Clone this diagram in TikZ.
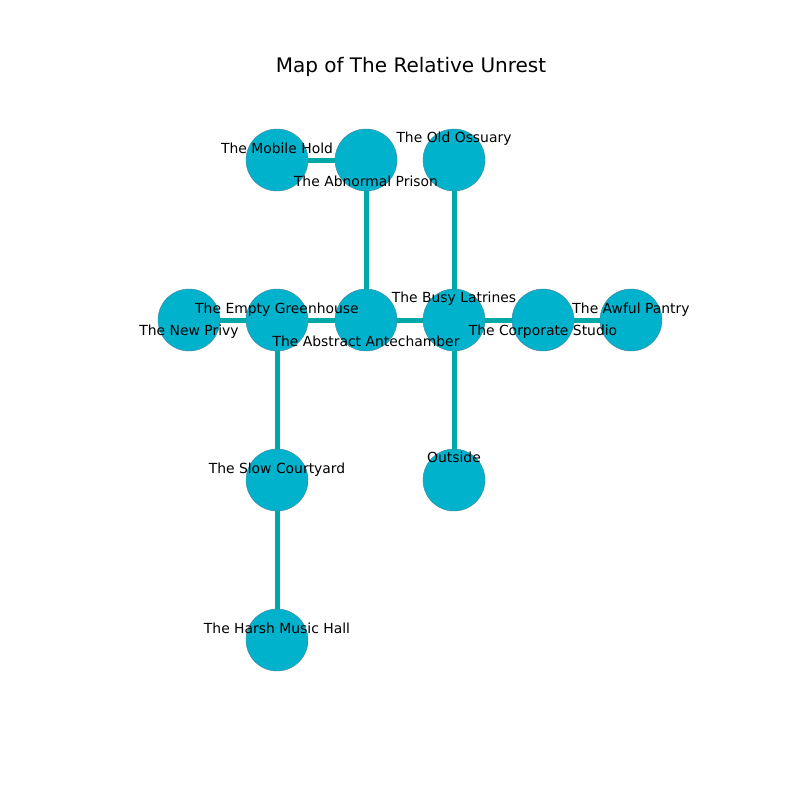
\documentclass[tikz,border=0pt]{standalone}
\usepackage{fontspec}
\setmainfont{DejaVu Sans}
\definecolor{nodefill}{RGB}{0,178,204}
\definecolor{edgecol}{RGB}{0,168,168}
\definecolor{nodeedge}{RGB}{70,130,150}
\begin{document}
\begin{tikzpicture}[x=1pt,y=-1pt,
  room/.style={circle,fill=nodefill,draw=nodeedge,line width=0.4pt,minimum size=62pt,inner sep=0pt},
  link/.style={edgecol,line width=5pt},
  lbl/.style={font=\fontsize{13.9}{16}\selectfont,inner sep=0pt,anchor=center}]
\useasboundingbox (0,0) rectangle (800,800);
\node[font=\fontsize{20}{24}\selectfont] (title) at (411,67) {Map of The Relative Unrest};
\node[room] (mob) at (277,160) {};
\node[room] (abn) at (366,160) {};
\node[room] (oss) at (454,160) {};
\node[room] (pri) at (189,320) {};
\node[room] (gre) at (277,320) {};
\node[room] (ant) at (366,320) {};
\node[room] (lat) at (454,320) {};
\node[room] (cor) at (543,320) {};
\node[room] (pan) at (631,320) {};
\node[room] (slo) at (277,480) {};
\node[room] (out) at (454,480) {};
\node[room] (har) at (277,640) {};
\draw[link] (mob) -- (abn);
\draw[link] (abn) -- (ant);
\draw[link] (oss) -- (lat);
\draw[link] (pri) -- (gre);
\draw[link] (gre) -- (ant);
\draw[link] (ant) -- (lat);
\draw[link] (lat) -- (cor);
\draw[link] (cor) -- (pan);
\draw[link] (gre) -- (slo);
\draw[link] (lat) -- (out);
\draw[link] (slo) -- (har);
\node[lbl] (lmob) at (277,148) {The Mobile Hold};
\node[lbl] (labn) at (366,181) {The Abnormal Prison};
\node[lbl] (loss) at (454,139) {The Old Ossuary};
\node[lbl] (lpri) at (189,332) {The New Privy};
\node[lbl] (lgre) at (277,310) {The Empty Greenhouse};
\node[lbl] (lant) at (366,341) {The Abstract Antechamber};
\node[lbl] (llat) at (454,299) {The Busy Latrines};
\node[lbl] (lcor) at (543,332) {The Corporate Studio};
\node[lbl] (lpan) at (631,310) {The Awful Pantry};
\node[lbl] (lslo) at (277,470) {The Slow Courtyard};
\node[lbl] (lout) at (454,457) {Outside};
\node[lbl] (lhar) at (277,628) {The Harsh Music Hall};
\end{tikzpicture}
\end{document}
